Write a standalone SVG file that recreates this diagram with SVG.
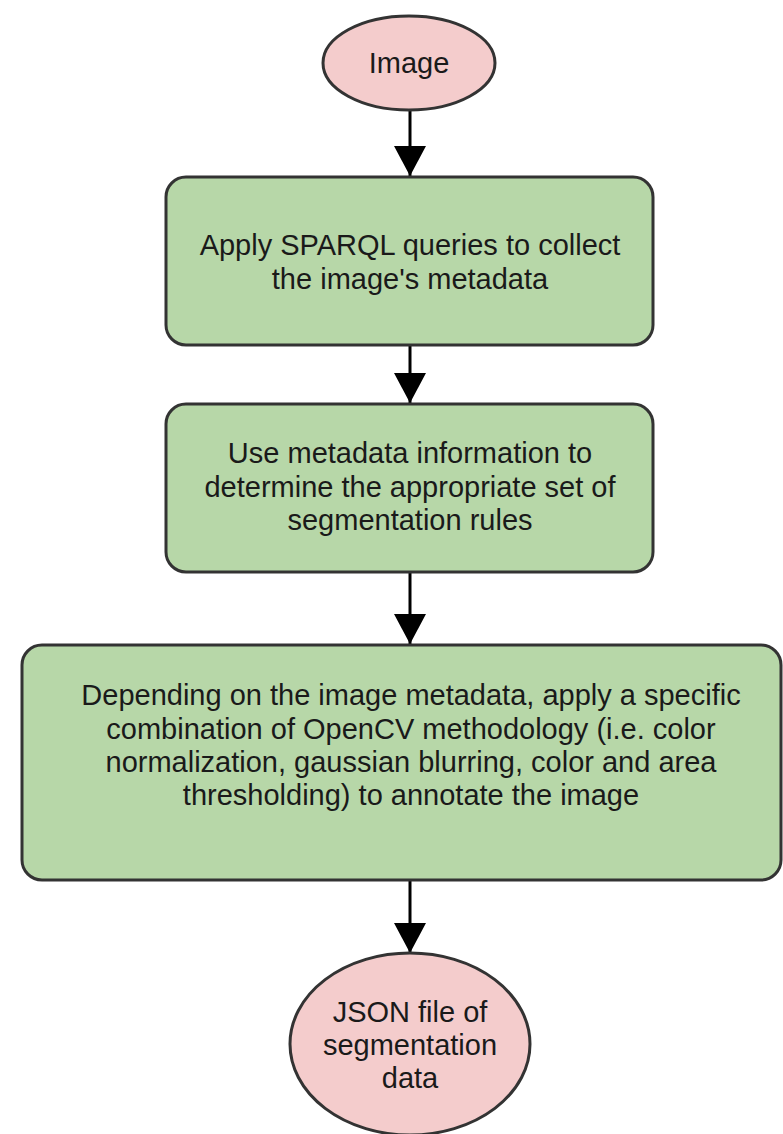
<svg xmlns="http://www.w3.org/2000/svg" width="783" height="1134" viewBox="0 0 783 1134">
  <style>
    .term { fill: #f4cccc; stroke: #333333; stroke-width: 3; }
    .proc { fill: #b7d7a8; stroke: #333333; stroke-width: 3; }
    .lbl { font-family: "Liberation Sans", Arial, sans-serif; font-size: 29px; fill: #1a1a1a; text-anchor: middle; }
    .conn { stroke: #000000; stroke-width: 3; fill: none; }
  </style>
  <defs>
    <marker id="arrow" viewBox="0 0 30 32" refX="30" refY="16" markerWidth="30" markerHeight="32" markerUnits="userSpaceOnUse" orient="auto">
      <path d="M0,0 L30,16 L0,32 Z" fill="#000000"/>
    </marker>
  </defs>
  <rect width="783" height="1134" fill="#ffffff"/>

  <g id="connectors">
    <line class="conn" x1="410" y1="110" x2="410" y2="176" marker-end="url(#arrow)"/>
    <line class="conn" x1="410" y1="345" x2="410" y2="403" marker-end="url(#arrow)"/>
    <line class="conn" x1="410" y1="572" x2="410" y2="644" marker-end="url(#arrow)"/>
    <line class="conn" x1="410" y1="880" x2="410" y2="953" marker-end="url(#arrow)"/>
  </g>

  <g id="node-image">
    <ellipse class="term" cx="409" cy="63" rx="86" ry="47"/>
    <text class="lbl" x="409" y="73">Image</text>
  </g>

  <g id="node-sparql">
    <rect class="proc" x="166" y="177" width="487" height="168" rx="20" ry="20"/>
    <text class="lbl" x="410" y="255">Apply SPARQL queries to collect</text>
    <text class="lbl" x="410" y="289">the image's metadata</text>
  </g>

  <g id="node-rules">
    <rect class="proc" x="166" y="404" width="487" height="168" rx="20" ry="20"/>
    <text class="lbl" x="410" y="463">Use metadata information to</text>
    <text class="lbl" x="410" y="497">determine the appropriate set of</text>
    <text class="lbl" x="410" y="530">segmentation rules</text>
  </g>

  <g id="node-opencv">
    <rect class="proc" x="22" y="645" width="759" height="235" rx="20" ry="20"/>
    <text class="lbl" x="411" y="705">Depending on the image metadata, apply a specific</text>
    <text class="lbl" x="411" y="739">combination of OpenCV methodology (i.e. color</text>
    <text class="lbl" x="411" y="772">normalization, gaussian blurring, color and area</text>
    <text class="lbl" x="411" y="805">thresholding) to annotate the image</text>
  </g>

  <g id="node-json">
    <ellipse class="term" cx="410" cy="1044" rx="120" ry="91"/>
    <text class="lbl" x="410" y="1022">JSON file of</text>
    <text class="lbl" x="410" y="1055">segmentation</text>
    <text class="lbl" x="410" y="1088">data</text>
  </g>
</svg>
